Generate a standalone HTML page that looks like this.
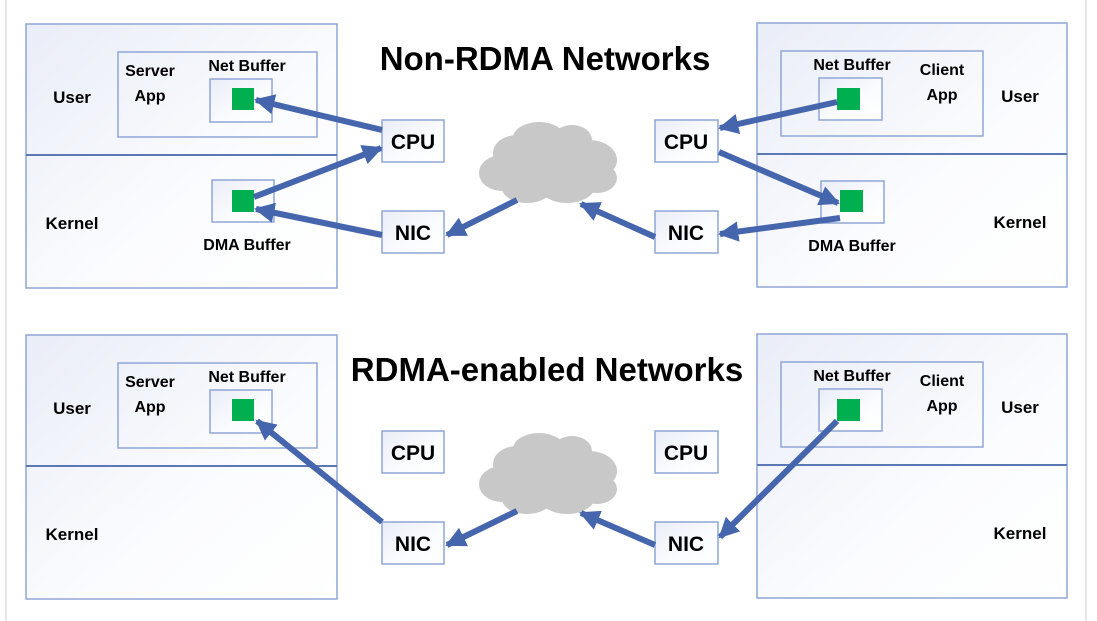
<!DOCTYPE html>
<html><head><meta charset="utf-8"><style>
html,body{margin:0;padding:0;background:#fff;}
svg{display:block;font-family:"Liberation Sans",sans-serif;font-weight:bold;}
</style></head><body>
<svg width="1097" height="621" viewBox="0 0 1097 621" xmlns="http://www.w3.org/2000/svg">
<defs>
<linearGradient id="g" x1="0" y1="0" x2="1" y2="1">
<stop offset="0" stop-color="#e9edf7"/><stop offset="0.6" stop-color="#fbfcfe"/><stop offset="1" stop-color="#ffffff"/>
</linearGradient>
<marker id="ah" viewBox="0 0 10 10" refX="9" refY="5" markerWidth="3.4" markerHeight="3.4" orient="auto">
<path d="M0,0 L10,5 L0,10 z" fill="#4565ad"/>
</marker>
<g id="cloud" fill="#c8c8c8">
<ellipse cx="0" cy="0" rx="34" ry="22"/>
<ellipse cx="-30" cy="-15" rx="24" ry="18"/>
<ellipse cx="-8" cy="-30" rx="26" ry="16"/>
<ellipse cx="25" cy="-28" rx="20" ry="15"/>
<ellipse cx="42" cy="-8" rx="28" ry="20"/>
<ellipse cx="-45" cy="5" rx="23" ry="18"/>
<ellipse cx="-20" cy="20" rx="25" ry="15"/>
<ellipse cx="20" cy="18" rx="28" ry="17"/>
<ellipse cx="50" cy="10" rx="20" ry="15"/>
</g>
</defs>
<line x1="6" y1="0" x2="6" y2="621" stroke="#e6e6e6" stroke-width="2"/>
<line x1="1086" y1="0" x2="1086" y2="621" stroke="#e6e6e6" stroke-width="2"/>

<g id="half">
<rect x="26" y="24" width="311" height="264" fill="url(#g)" stroke="#8fa6d6" stroke-width="1.5"/>
<line x1="26" y1="155" x2="337" y2="155" stroke="#5a78b4" stroke-width="2"/>
<rect x="118" y="52" width="199" height="85" fill="none" stroke="#8fa6d6" stroke-width="1.5"/>
<text x="72" y="103" font-size="17" text-anchor="middle">User</text>
<text x="150" y="76" font-size="16" text-anchor="middle">Server</text>
<text x="150" y="101" font-size="16" text-anchor="middle">App</text>
<text x="247" y="71" font-size="16" text-anchor="middle">Net Buffer</text>
<rect x="210" y="79" width="62" height="43" fill="url(#g)" stroke="#8fa6d6" stroke-width="1.5"/>
<rect x="232" y="88" width="22" height="22" fill="#00b050"/>
<text x="72" y="229" font-size="17" text-anchor="middle">Kernel</text>
<rect x="757" y="23" width="310" height="264" fill="url(#g)" stroke="#8fa6d6" stroke-width="1.5"/>
<line x1="757" y1="154" x2="1067" y2="154" stroke="#5a78b4" stroke-width="2"/>
<rect x="781" y="51" width="202" height="85" fill="none" stroke="#8fa6d6" stroke-width="1.5"/>
<text x="1020" y="102" font-size="17" text-anchor="middle">User</text>
<text x="942" y="75" font-size="16" text-anchor="middle">Client</text>
<text x="942" y="100" font-size="16" text-anchor="middle">App</text>
<text x="852" y="70" font-size="16" text-anchor="middle">Net Buffer</text>
<rect x="819" y="78" width="63" height="42" fill="url(#g)" stroke="#8fa6d6" stroke-width="1.5"/>
<rect x="837" y="88" width="23" height="22" fill="#00b050"/>
<text x="1020" y="228" font-size="17" text-anchor="middle">Kernel</text>
<rect x="382" y="120" width="62" height="42" fill="url(#g)" stroke="#8fa6d6" stroke-width="1.5"/>
<text x="413" y="149" font-size="21" text-anchor="middle">CPU</text>
<rect x="382" y="211" width="62" height="42" fill="url(#g)" stroke="#8fa6d6" stroke-width="1.5"/>
<text x="413" y="240" font-size="21" text-anchor="middle">NIC</text>
<rect x="655" y="120" width="63" height="42" fill="url(#g)" stroke="#8fa6d6" stroke-width="1.5"/>
<text x="686" y="149" font-size="21" text-anchor="middle">CPU</text>
<rect x="655" y="211" width="63" height="42" fill="url(#g)" stroke="#8fa6d6" stroke-width="1.5"/>
<text x="686" y="240" font-size="21" text-anchor="middle">NIC</text>
<use href="#cloud" transform="translate(547,168)"/>
</g>
<use href="#half" transform="translate(0,311)"/>

<text x="545" y="70" font-size="33" text-anchor="middle">Non-RDMA Networks</text>
<text x="547" y="381" font-size="33" text-anchor="middle">RDMA-enabled Networks</text>

<text x="247" y="250" font-size="16" text-anchor="middle">DMA Buffer</text>
<rect x="212" y="180" width="62" height="42" fill="url(#g)" stroke="#8fa6d6" stroke-width="1.5"/>
<rect x="232" y="190" width="22" height="22" fill="#00b050"/>
<text x="852" y="251" font-size="16" text-anchor="middle">DMA Buffer</text>
<rect x="821" y="181" width="63" height="42" fill="url(#g)" stroke="#8fa6d6" stroke-width="1.5"/>
<rect x="840" y="190" width="23" height="22" fill="#00b050"/>

<g stroke="#4565ad" stroke-width="6" fill="none" marker-end="url(#ah)">
<line x1="382" y1="130" x2="256" y2="100"/>
<line x1="254" y1="197" x2="381" y2="148"/>
<line x1="382" y1="235" x2="256" y2="209"/>
<line x1="517" y1="200" x2="447" y2="235"/>
<line x1="837" y1="102" x2="720" y2="128"/>
<line x1="719" y1="152" x2="838" y2="203"/>
<line x1="840" y1="218" x2="720" y2="234"/>
<line x1="655" y1="237" x2="581" y2="204"/>
<line x1="382" y1="522" x2="257" y2="421"/>
<line x1="517" y1="511" x2="447" y2="545"/>
<line x1="837" y1="421" x2="720" y2="537"/>
<line x1="655" y1="545" x2="581" y2="513"/>
</g>
</svg>
</body></html>
